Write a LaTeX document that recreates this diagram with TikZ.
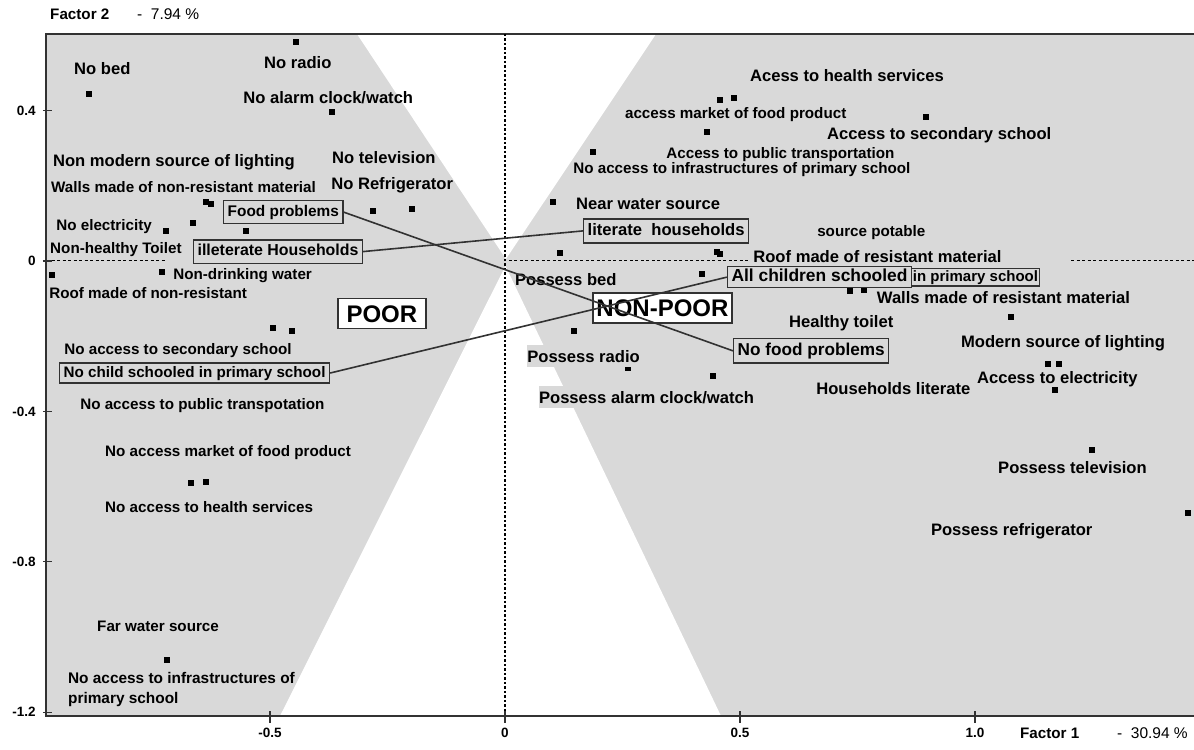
\documentclass[tikz,border=0pt]{standalone}
\usepackage{fontspec}
\setmainfont{Liberation Sans}
\usetikzlibrary{positioning}
\definecolor{bggray}{RGB}{217,217,217}
\definecolor{ink}{RGB}{50,50,50}
\tikzset{pt/.style={fill=black,minimum size=6.5pt,inner sep=0pt}  }
\tikzset{lbl/.style={font=\fontsize{16.6}{18}\selectfont\bfseries,inner sep=0pt,text height=12pt,text depth=0pt,anchor=west}  }
\tikzset{lbls/.style={lbl,font=\fontsize{15.2}{17}\selectfont\bfseries,text height=11pt}  }
\tikzset{lblbg/.style={lbl,fill=bggray,inner ysep=5pt}  }
\tikzset{lbltwo/.style={font=\fontsize{15.4}{20}\selectfont\bfseries,inner sep=0pt,align=left,anchor=north west}  }
\tikzset{tag/.style={draw=ink,line width=1.4pt,font=\fontsize{#1}{#1}\selectfont\bfseries,inner xsep=4pt,inner ysep=4pt,text height=0.75*#1pt,text depth=0.22*#1pt,anchor=west}  }
\tikzset{bigtag/.style={draw=ink,line width=1.4pt,fill=white,font=\fontsize{24}{24}\selectfont\bfseries,inner ysep=6.5pt,text height=17.3pt,text depth=0pt}  }
\tikzset{link/.style={draw=ink,line width=1.6pt}  }
\tikzset{tick/.style={font=\fontsize{13.5}{15}\selectfont\bfseries,inner sep=0pt}  }
\tikzset{axtitle/.style={font=\fontsize{15.2}{16}\selectfont\bfseries,inner sep=0pt,text height=10.9pt,text depth=0pt,anchor=west}  }
\tikzset{axval/.style={font=\fontsize{15.5}{16}\selectfont,inner sep=0pt,text height=11pt,text depth=0pt,anchor=west}  }

\begin{document}
\begin{tikzpicture}[x=470pt,y=376pt]
	\useasboundingbox (-1.0745,-1.3005) rectangle (1.466,0.6941);
	% shaded planes
	\fill[bggray] (-0.9766,-1.2101) rectangle (1.466,0.6037);
	\fill[white] (-0.3149,0.6037) -- (0.3213,0.6037) -- (0.002,0.005) -- cycle;
	\fill[white] (0.001,-0.013) -- (0.4596,-1.2101) -- (-0.4787,-1.2101) -- cycle;
	\draw[ink,line width=1.8pt] (1.466,0.6037) -- (-0.9766,0.6037) -- (-0.9766,-1.2101) -- (1.466,-1.2101);
	\draw[black,line width=1.2pt,dash pattern=on 2.5pt off 2pt] (0,0.6037) -- (0,-1.2101);
	\draw[black,line width=1pt,dash pattern=on 3pt off 2.5pt] (-0.9766,0) -- (-0.7234,0);
	\draw[black,line width=1pt,dash pattern=on 3pt off 2.5pt] (0.0085,0) -- (0.5213,0);
	\draw[black,line width=1pt,dash pattern=on 3pt off 2.5pt] (1.2043,0) -- (1.466,0);
	\foreach \y [count=\i] in {0.4,0,-0.4,-0.8,-1.2}{
		\draw[ink,line width=1.2pt] (-0.983,\y) -- (-0.964,\y);
		\node[tick,anchor=east] (ty\i) at (-0.998,\y) {\y};
	}
	\foreach \x/\t [count=\i] in {-0.5/-0.5,0/0,0.5/0.5,1/1.0}{
		\draw[ink,line width=1.2pt] (\x,-1.197) -- (\x,-1.229);
		\node[tick] (tx\i) at (\x,-1.2553) {\t};
	}
	\node[axtitle] (f2) at (-0.968,0.657) {Factor 2};
	\node[axval] (f2v) at (-0.783,0.657) {-\ \ 7.94 \%};
	\node[axtitle] (f1) at (1.0957,-1.2553) {Factor 1};
	\node[axval] (f1v) at (1.302,-1.2553) {-\ \ 30.94 \%};
	% points
	\foreach \x/\y [count=\i] in {-0.885/0.444,-0.445/0.582,-0.368/0.396,-0.636/0.157,-0.626/0.152,
		-0.281/0.133,-0.198/0.138,-0.664/0.101,-0.721/0.080,-0.551/0.080,-0.964/-0.037,-0.730/-0.029,
		-0.494/-0.178,-0.453/-0.186,-0.668/-0.590,-0.636/-0.588,-0.719/-1.061,
		0.457/0.428,0.487/0.434,0.896/0.383,0.430/0.343,0.187/0.290,0.102/0.157,0.117/0.021,
		0.451/0.024,0.457/0.019,0.419/-0.035,0.734/-0.080,0.764/-0.077,1.077/-0.149,0.147/-0.186,
		0.262/-0.285,0.443/-0.306,1.155/-0.274,1.179/-0.274,1.170/-0.343,1.249/-0.503,1.453/-0.670}
		\node[pt] (m\i) at (\x,\y) {};
	% poor side
	\node[lbl] (nobed) at (-0.917,0.511) {No bed};
	\node[lbl] (noradio) at (-0.513,0.527) {No radio};
	\node[lbl] (noalarm) at (-0.557,0.436) {No alarm clock/watch};
	\node[lbl] (nolight) at (-0.962,0.266) {Non modern source of lighting};
	\node[lbl] (notv) at (-0.368,0.274) {No television};
	\node[lbls] (nowalls) at (-0.966,0.197) {Walls made of non-resistant material};
	\node[lbl] (nofridge) at (-0.370,0.207) {No Refrigerator};
	\node[lbls] (noelec) at (-0.955,0.096) {No electricity};
	\node[lbls] (notoilet) at (-0.968,0.035) {Non-healthy Toilet};
	\node[lbls] (nodrink) at (-0.706,-0.035) {Non-drinking water};
	\node[lbls] (noroof) at (-0.970,-0.085) {Roof made of non-resistant};
	\node[lbls] (nosecond) at (-0.938,-0.234) {No access to secondary school};
	\node[lbls] (notransp) at (-0.904,-0.380) {No access to public transpotation};
	\node[lbls] (nomarket) at (-0.851,-0.505) {No access market of food product};
	\node[lbls] (nohealth) at (-0.851,-0.654) {No access to health services};
	\node[lbls] (farwater) at (-0.868,-0.971) {Far water source};
	\node[lbltwo] (noinfratwo) at (-0.930,-1.093) {No access to infrastructures of\\primary school};
	% non-poor side
	\node[lbl] (health) at (0.521,0.492) {Acess to health services};
	\node[lbls] (market) at (0.255,0.394) {access market of food product};
	\node[lbl] (second) at (0.685,0.338) {Access to secondary school};
	\node[lbls] (transp) at (0.343,0.287) {Access to public transportation};
	\node[lbls] (noinfra) at (0.145,0.247) {No access to infrastructures of primary school};
	\node[lbl] (nearwater) at (0.151,0.154) {Near water source};
	\node[lbls] (potable) at (0.664,0.080) {source potable};
	\node[lbl] (roof) at (0.528,0.013) {Roof made of resistant material};
	\node[lbl] (bed) at (0.021,-0.048) {Possess bed};
	\node[lbl] (walls) at (0.791,-0.098) {Walls made of resistant material};
	\node[lbl] (toilet) at (0.604,-0.160) {Healthy toilet};
	\node[lbl] (light) at (0.970,-0.215) {Modern source of lighting};
	\node[lblbg] (radio) at (0.047,-0.253) {Possess radio};
	\node[lbl] (elec) at (1.004,-0.309) {Access to electricity};
	\node[lbl] (literate) at (0.662,-0.338) {Households literate};
	\node[lblbg] (alarm) at (0.072,-0.362) {Possess alarm clock/watch};
	\node[lbl] (tv) at (1.049,-0.548) {Possess television};
	\node[lbl] (fridge) at (0.906,-0.715) {Possess refrigerator};
	\node[bigtag,inner xsep=8.6pt] (poor) at (-0.262,-0.140) {POOR};
	\node[bigtag,inner xsep=3.5pt] (nonpoor) at (0.335,-0.125) {NON-POOR};
	\node[tag=15.4] (foodp) at (-0.600,0.130) {Food problems};
	\node[tag=15.9] (illit) at (-0.664,0.025) {illeterate Households};
	\node[tag=16.6] (lit) at (0.166,0.080) {literate\ \ households};
	\node[tag=15.2,inner ysep=2.5pt] (nochild) at (-0.949,-0.298) {No child schooled in primary school};
	\node[tag=17.2] (nofood) at (0.485,-0.239) {No food problems};
	\node[tag=17.4,inner ysep=2pt] (allkids) at (0.472,-0.043) {All children schooled};
	\node[tag=15,inner xsep=1.5pt,inner ysep=1.5pt,right=-1.4pt of allkids] (inprim) {in primary school};
	\draw[link] (foodp.east) -- (nofood.west);
	\draw[link] (illit.east) -- (lit.west);
	\draw[link] (nochild.east) -- (allkids.west);
\end{tikzpicture}
\end{document}
